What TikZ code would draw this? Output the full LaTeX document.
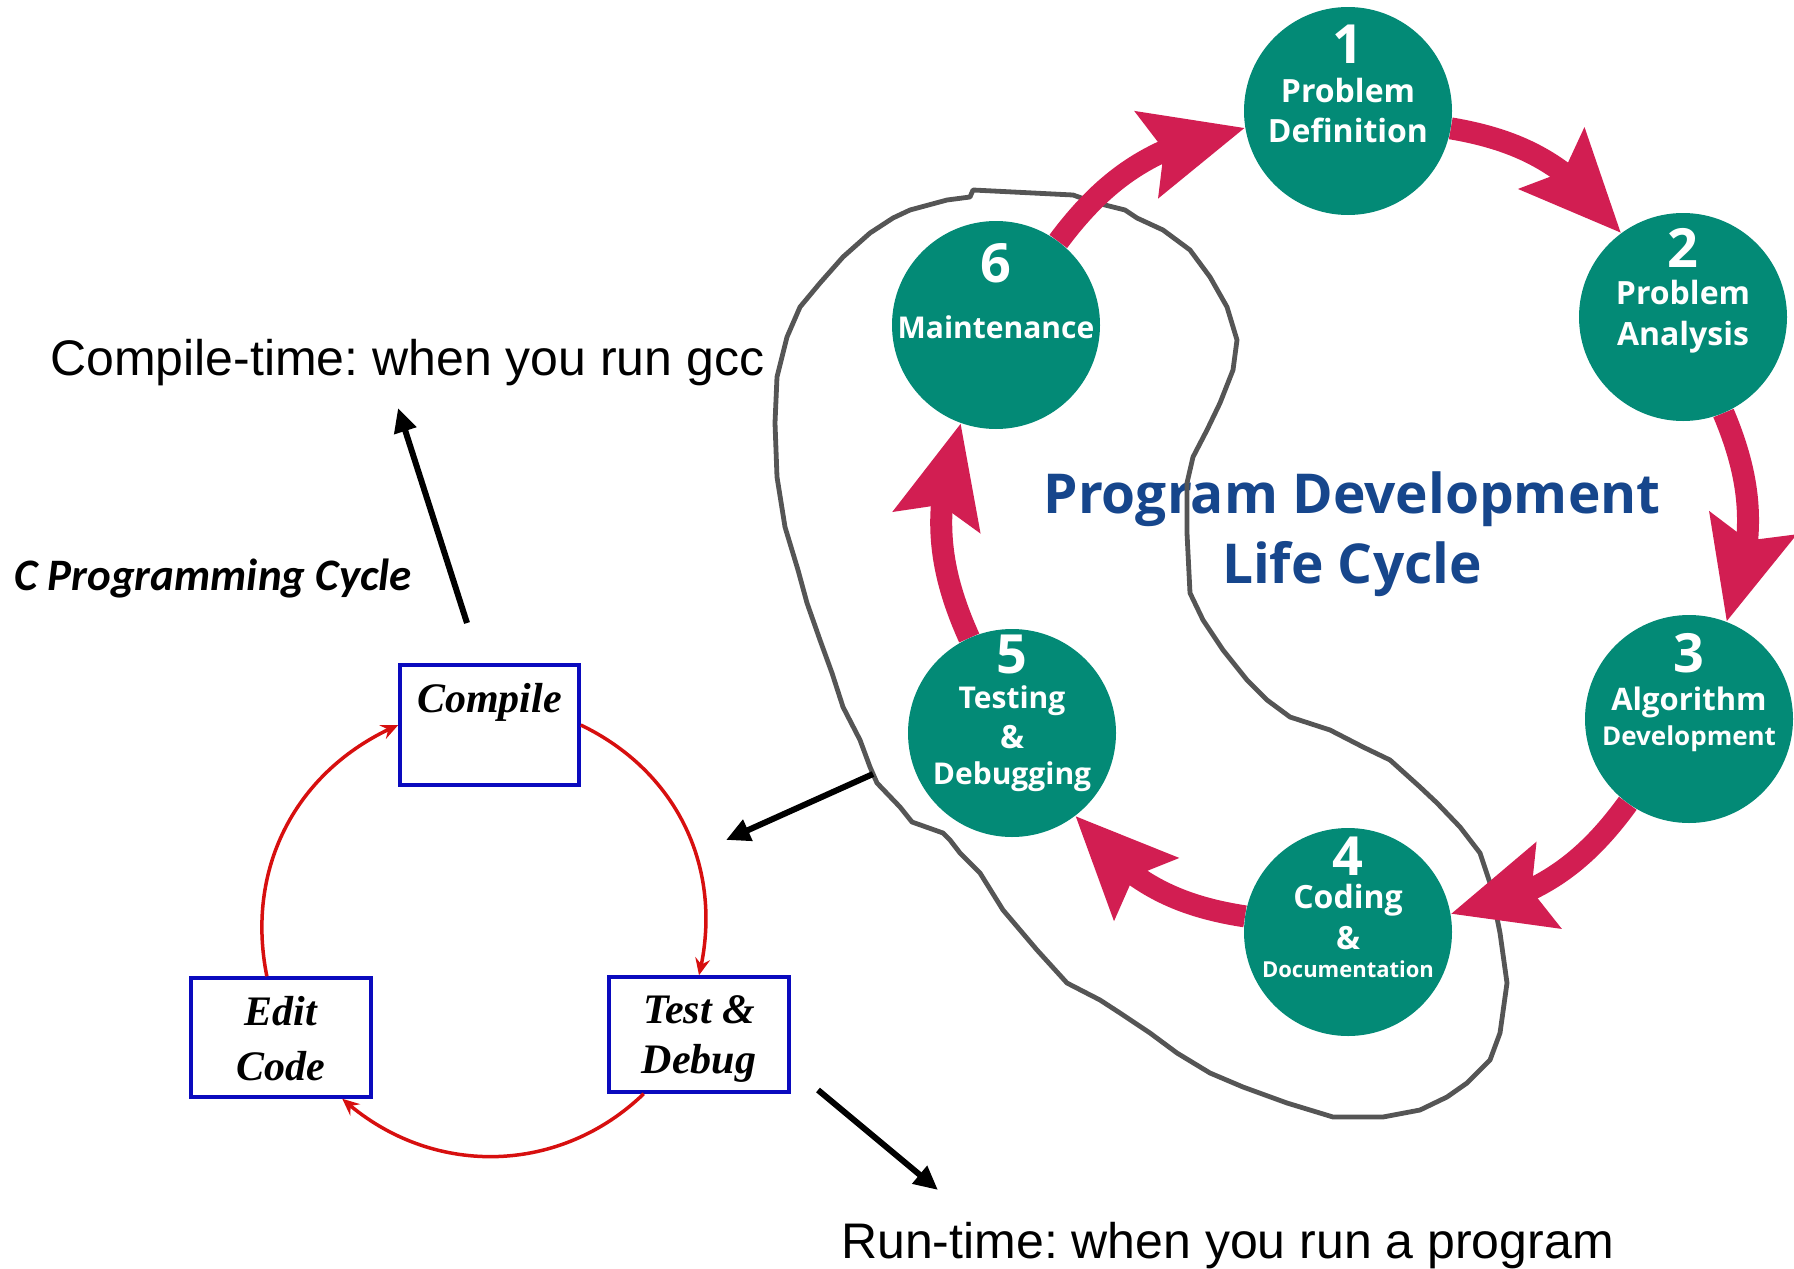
\documentclass[tikz,border=0pt]{standalone}
\usepackage{fontspec}
\setmainfont{Liberation Serif}
\newfontfamily\stagefont{Open Sans}
\newfontfamily\notefont{Liberation Sans}
\newfontfamily\headfont{Carlito}
\usetikzlibrary{arrows.meta,bending,calc}

\definecolor{stageteal}{RGB}{3,138,118}
\definecolor{cyclered}{RGB}{210,30,82}
\definecolor{titleblue}{RGB}{22,70,140}
\definecolor{sketchgray}{RGB}{85,85,85}
\definecolor{boxblue}{RGB}{10,10,190}
\definecolor{loopred}{RGB}{215,15,15}

% one line of text set on a zero-size box, #1 pt below the reference point
\newcommand\zl[3]{\makebox[0pt]{\raisebox{-#1pt}[0pt][0pt]{\fontsize{#2}{#2}\selectfont #3}}}

\pgfdeclarelayer{under}
\pgfsetlayers{under,main}

\tikzset{
  stage/.style={circle, fill=stageteal, minimum size=208pt, inner sep=0pt,
    text=white, font=\stagefont\bfseries},
  cyc/.style={draw=cyclered, line width=22pt,
    -{Stealth[length=100pt, width=86pt, inset=16pt, flex]}},
  sketch/.style={draw=sketchgray, line width=4.8pt, line join=round},
  cbox/.style={draw=boxblue, line width=3.5pt, fill=white, inner sep=0pt,
    font=\bfseries\itshape},
  loop/.style={draw=loopred, line width=3.5pt,
    -{Stealth[length=17pt, width=15pt, inset=6pt, flex]}},
  pointer/.style={draw=black, line width=6pt, -{Triangle[length=24pt, width=22pt]}},
  note/.style={anchor=base west, inner sep=0pt,
    font={\notefont\fontsize{50}{60}\selectfont}},
}

\begin{document}
\frenchspacing
\begin{tikzpicture}[x=1pt,y=-1pt]
\useasboundingbox (0,0) rectangle (1794,1269);
\clip (0,0) rectangle (1794,1269);

% ---- program development life cycle ----
\node[stage] (s1) at (1348,111) {\zl{-48}{54}{1}\zl{-9}{32}{Problem}\zl{31}{32}{Definition}};
\node[stage] (s2) at (1683,317) {\zl{-50}{54}{2}\zl{-13}{32}{Problem}\zl{28}{32}{Analysis}};
\node[stage] (s3) at (1689,719) {\zl{-47}{54}{3}\zl{-9}{31}{Algorithm}\zl{26}{26}{Development}};
\node[stage] (s4) at (1348,932) {\zl{-57}{54}{4}\zl{-24}{32}{Coding}\zl{17}{32}{\&}\zl{45}{22}{Documentation}};
\node[stage] (s5) at (1012,733) {\zl{-60}{54}{5}\zl{-25}{30}{Testing}\zl{15}{32}{\&}\zl{51}{30}{Debugging}};
\node[stage] (s6) at (996,325) {\zl{-43}{54}{6}\zl{13}{30}{Maintenance}};

\begin{pgfonlayer}{under}
  \node[inner sep=0pt, text=titleblue, font=\stagefont\bfseries] (title) at (1352,513)
    {\zl{0}{55}{Program Development}\zl{70}{55}{Life Cycle}};

  % hand-drawn outline around the later stages
  \draw[sketch] (973,190) -- (1073,195) -- (1093,202) -- (1125,210) -- (1137,218)
    -- (1163,230) -- (1190,250) -- (1210,277) -- (1227,307) -- (1237,340)
    -- (1233,370) -- (1220,403) -- (1207,430) -- (1193,457) -- (1187,483)
    -- (1187,533) -- (1190,593) -- (1203,620) -- (1223,650) -- (1247,680)
    -- (1267,700) -- (1290,717) -- (1330,730) -- (1363,747) -- (1390,760)
    -- (1420,787) -- (1437,803) -- (1460,827) -- (1480,853) -- (1490,883)
    -- (1500,933) -- (1507,983) -- (1500,1033) -- (1490,1060) -- (1467,1083)
    -- (1447,1097) -- (1420,1110) -- (1383,1117) -- (1333,1117) -- (1287,1103)
    -- (1243,1087) -- (1210,1073) -- (1177,1053) -- (1150,1033) -- (1120,1013)
    -- (1100,1000) -- (1067,983) -- (1037,950) -- (1003,910) -- (980,873)
    -- (960,853) -- (950,840) -- (943,833) -- (912,822) -- (900,807)
    -- (877,783) -- (870,767) -- (860,740) -- (843,707) -- (832,673)
    -- (820,640) -- (807,603) -- (798,570) -- (785,527) -- (777,477)
    -- (775,423) -- (777,377) -- (787,337) -- (800,307) -- (820,283)
    -- (843,257) -- (870,233) -- (893,218) -- (910,210) -- (947,200)
    -- (970,197) -- cycle;

  \draw[cyc] (s1) to[bend left=22] (s2);
  \draw[cyc] (s2) to[bend left=22] (s3);
  \draw[cyc] (s3) to[bend left=22] (s4);
  \draw[cyc] (s4) to[bend left=22] (s5);
  \draw[cyc] (s5) to[bend left=22] (s6);
  \draw[cyc] (s6) to[bend left=22] (s1);
\end{pgfonlayer}

% ---- C programming cycle ----
\node[note] (ctime) at (50,375) {Compile-time: when you run gcc};
\node[note] (rtime) at (841,1258) {Run-time: when you run a program};
\node[anchor=base west, inner sep=0pt,
      font={\headfont\bfseries\itshape\fontsize{45}{50}\selectfont}] (cpc) at (14,590)
  {C Programming Cycle};

\node[cbox, minimum width=179pt, minimum height=120pt] (compile) at (489.5,725)
  {\zl{-13}{42}{Compile}};
\node[cbox, minimum width=180pt, minimum height=119pt] (edit) at (281,1037.5)
  {\zl{-12.5}{42}{Edit}\zl{42.5}{42}{Code}};
\node[cbox, minimum width=180pt, minimum height=115pt] (test) at (699,1034.5)
  {\zl{-11.5}{42}{Test \&}\zl{38.5}{42}{Debug}};

\draw[loop] (compile.east) to[bend left=39] (test.north);
\draw[loop] (test.227) to[bend left=43] (edit.-45);
\draw[loop] (edit.103) to[bend left=39] (compile.west);

\coordinate (gccFrom) at (467,623);
\coordinate (gccTo) at (398,408);
\coordinate (blobFrom) at (873,774);
\coordinate (blobTo) at (726,840);
\coordinate (runFrom) at (818,1090);
\coordinate (runTo) at (938,1190);
\draw[pointer] (gccFrom) -- (gccTo);
\draw[pointer] (blobFrom) -- (blobTo);
\draw[pointer] (runFrom) -- (runTo);
\end{tikzpicture}
\end{document}
